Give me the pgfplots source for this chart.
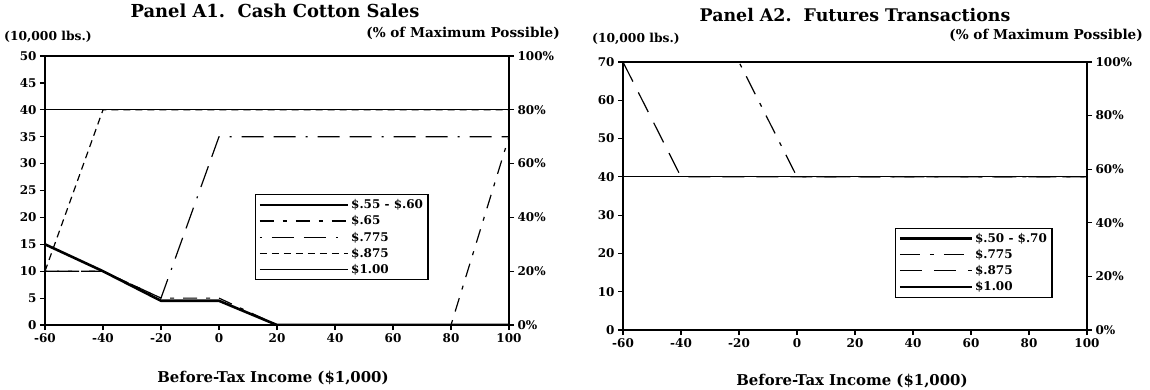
\documentclass[border=0pt]{standalone}
\usepackage{pgfplots}
\pgfplotsset{compat=1.18}
\usepackage{fontspec}
\setmainfont{DejaVu Serif}

\pgfplotsset{
  base/.style={
    scale only axis, width=464pt,
    xmin=-60, xmax=100,
    xtick={-60,-40,-20,0,20,40,60,80,100},
    xticklabels={-60,-40,-20,0,20,40,60,80,100},
    tick align=outside, xtick pos=bottom, ytick pos=left,
    axis line style={line width=1.6pt},
    major tick style={line width=1.2pt, black},
    major tick length=5pt,
    tick label style={font=\fontsize{12}{13}\selectfont\bfseries},
    legend style={draw=black, line width=1.2pt, font=\fontsize{12}{13}\selectfont\bfseries,
      inner xsep=3pt, inner ysep=3pt, row sep=1.5pt},
    legend cell align=left,
  },
  rightax/.style={
    scale only axis, width=464pt,
    xmin=-60, xmax=100, axis x line=none,
    axis y line*=right, tick align=outside,
    axis line style={line width=1.6pt},
    major tick style={line width=1.2pt, black},
    major tick length=5pt,
    tick label style={font=\fontsize{12}{13}\selectfont\bfseries},
    ymin=0, ymax=100, ytick={0,20,40,60,80,100},
    yticklabels={0\%,20\%,40\%,60\%,80\%,100\%},
  },
  thickser/.style={black, line width=2.6pt},
  thinser/.style={black, line width=1.2pt},
  legA/.style={legend image code/.code={\draw[##1] (0pt,0pt) -- (74pt,0pt); \path (0pt,0pt) -- (88pt,0pt);}},
  legB/.style={legend image code/.code={\draw[##1] (0pt,0pt) -- (72pt,0pt);}},
}

\begin{document}
\begin{tikzpicture}[x=1pt,y=1pt]
\path[use as bounding box] (0,0) rectangle (1150,389);

% ---------------- Panel A1 ----------------
\begin{axis}[base, legA, at={(45pt,64pt)}, anchor=south west, height=269pt,
  ymin=0, ymax=50, ytick={0,5,...,50},
  yticklabels={0,5,10,15,20,25,30,35,40,45,50},
  legend style={at={(0.4526,0.487)}, anchor=north west}]
\addplot[thickser] coordinates {(-60,15) (-40,10) (-20,4.5) (0,4.5) (20,0) (100,0)};
\addlegendentry{\$.55 - \$.60}
\addplot[thinser, dash pattern=on 14pt off 9pt on 4pt off 9pt] coordinates {(-60,10) (-40,10) (-20,5) (0,5) (20,0) (80,0) (100,35)};
\addlegendentry{\$.65}
\addplot[thinser, dash pattern=on 2pt off 10pt on 22pt off 10pt on 22pt off 10pt] coordinates {(-60,10) (-40,10) (-20,5) (0,35) (100,35)};
\addlegendentry{\$.775}
\addplot[thinser, dash pattern=on 7pt off 5pt] coordinates {(-60,10) (-40,40) (100,40)};
\addlegendentry{\$.875}
\addplot[thinser] coordinates {(-60,40) (100,40)};
\addlegendentry{\$1.00}
\end{axis}
\begin{axis}[rightax, at={(45pt,64pt)}, anchor=south west, height=269pt]
\end{axis}

% ---------------- Panel A2 ----------------
\begin{axis}[base, legB, at={(623pt,59pt)}, anchor=south west, height=268pt,
  ymin=0, ymax=70, ytick={0,10,...,70},
  yticklabels={0,10,20,30,40,50,60,70},
  legend style={at={(0.586,0.382)}, anchor=north west}]
\addplot[thickser] coordinates {(-60,0) (100,0)};
\addlegendentry{\$.50 - \$.70}
\addplot[thinser, dash pattern=on 20pt off 10pt on 4pt off 10pt] coordinates {(-60,70) (-20,70) (0,40) (100,40)};
\addlegendentry{\$.775}
\addplot[thinser, dash pattern=on 22pt off 12pt] coordinates {(-60,70) (-40,40) (100,40)};
\addlegendentry{\$.875}
\addplot[thinser] coordinates {(-60,40) (100,40)};
\addlegendentry{\$1.00}
\end{axis}
\begin{axis}[rightax, at={(623pt,59pt)}, anchor=south west, height=268pt]
\end{axis}

% ---------------- Text ----------------
\node[font=\fontsize{17.9}{19}\selectfont\bfseries] at (275,378.5) {Panel A1.\ \ Cash Cotton Sales};
\node[font=\fontsize{17.4}{19}\selectfont\bfseries] at (855,373.5) {Panel A2.\ \ Futures Transactions};
\node[anchor=west, font=\fontsize{12.3}{13}\selectfont\bfseries, inner sep=0pt] at (4,352) {(10,000 lbs.)};
\node[anchor=west, font=\fontsize{12.3}{13}\selectfont\bfseries, inner sep=0pt] at (592,350) {(10,000 lbs.)};
\node[anchor=east, font=\fontsize{13.6}{14}\selectfont\bfseries, inner sep=0pt] at (560,356) {(\% of Maximum Possible)};
\node[anchor=east, font=\fontsize{13.6}{14}\selectfont\bfseries, inner sep=0pt] at (1143,354) {(\% of Maximum Possible)};
\node[font=\fontsize{14.9}{16}\selectfont\bfseries] at (273,11) {Before-Tax Income (\$1,000)};
\node[font=\fontsize{14.9}{16}\selectfont\bfseries] at (852,8) {Before-Tax Income (\$1,000)};
\end{tikzpicture}
\end{document}
